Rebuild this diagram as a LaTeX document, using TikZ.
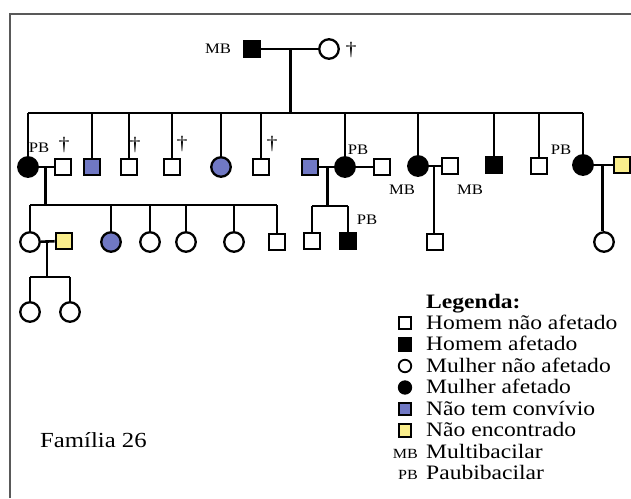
\documentclass[tikz,border=0pt]{standalone}
\usepackage{fontspec}
\setmainfont{Liberation Serif}[FakeStretch=1.15]
\usepackage{tikz}
\usetikzlibrary{calc,positioning}
\definecolor{nocontblue}{RGB}{112,120,196}
\definecolor{notfoundyellow}{RGB}{250,238,140}
\newcommand{\legfont}{\fontsize{20.5}{24}\selectfont}
\newcommand{\famfont}{\fontsize{21.5}{25}\selectfont}
\newcommand{\tagfont}{\fontsize{14.5}{16}\selectfont}
\newcommand{\dagfont}{\fontsize{19}{21}\selectfont}

\tikzset{
  ped/.style={line width=2.6pt},
  male/.style={draw, line width=2.3pt, minimum size=16.5pt, inner sep=0pt, fill=white},
  female/.style={draw, circle, line width=2.3pt, minimum size=19.5pt, inner sep=0pt, fill=white},
  aff/.style={fill=black},
  nocont/.style={fill=nocontblue},
  notfound/.style={fill=notfoundyellow},
  legsym/.style={minimum size=12.5pt, line width=1.8pt},
  tag/.style={font=\tagfont, inner sep=0pt},
  dead/.style={font=\dagfont, inner sep=0pt},
  legtext/.style={font=\legfont, anchor=base west, inner sep=0pt},
}

\begin{document}
\begin{tikzpicture}[x=1pt,y=-1pt]
\useasboundingbox (0,0) rectangle (631,498);
% frame (only top and left edge show)
\draw[black!65, line width=2pt] (9.5,498) -- (9.5,14) -- (631,14);

% generation I
\node[male,aff] (gf) at (252,49) {};
\node[female] (gm) at (329,49) {};
\node[tag] at (218,49) {MB};
\node[dead] at (351,50) {†};
\draw[ped] (gf) -- (gm);
\coordinate (m0) at ($(gf)!0.5!(gm)$);
\coordinate (s1l) at (28,113);
\coordinate (s1r) at (583,113);
\draw[ped] (m0) -- (m0 |- s1l);
\draw[ped] (s1l) -- (s1r);

% generation II
\node[female,aff] (a1) at (28,167) {};
\node[male] (a1h) at (63,167) {};
\node[male,nocont] (a2) at (92,167) {};
\node[male] (a3) at (129,167) {};
\node[male] (a4) at (172,167) {};
\node[female,nocont] (a5) at (221,167) {};
\node[male] (a6) at (261,167) {};
\node[male,nocont] (a7w) at (310,167) {};
\node[female,aff] (a7) at (345,167) {};
\node[male] (a7h) at (382,167) {};
\node[female,aff] (a8) at (418,166) {};
\node[male] (a8h) at (450,166) {};
\node[male,aff] (a9) at (494,165) {};
\node[male] (a10) at (539,166) {};
\node[female,aff] (a11) at (583,165) {};
\node[male,notfound] (a11h) at (622,165) {};

\foreach \n in {a1,a2,a3,a4,a5,a6,a7,a8,a9,a10,a11}
  \draw[ped] (\n) -- (\n |- s1l);

% tags and deaths
\node[tag] at (39,148) {PB};
\node[dead] at (64,145) {†};
\node[dead] at (135,145) {†};
\node[dead] at (182,144) {†};
\node[dead] at (272,144) {†};
\node[tag] at (358,150) {PB};
\node[tag] at (402,190) {MB};
\node[tag] at (470,190) {MB};
\node[tag] at (561,150) {PB};

% marriages
\draw[ped] (a1) -- (a1h);
\draw[ped] (a7w) -- (a7);
\draw[ped] (a7) -- (a7h);
\draw[ped] (a8) -- (a8h);
\draw[ped] (a11) -- (a11h);

% generation III
\node[female] (b1) at (30,242) {};
\node[male,notfound] (b1h) at (64,241) {};
\node[female,nocont] (b2) at (111,242) {};
\node[female] (b3) at (150,242) {};
\node[female] (b4) at (186,242) {};
\node[female] (b5) at (234,242) {};
\node[male] (b6) at (277,242) {};
\node[male] (b7) at (312,241) {};
\node[male,aff] (b8) at (348,241) {};
\node[tag] at (367,220) {PB};
\node[male] (b9) at (435,242) {};
\node[female] (b10) at (604,242) {};

\coordinate (m1) at ($(a1)!0.5!(a1h)$);
\coordinate (s2l) at (30,205);
\coordinate (s2r) at (277,205);
\draw[ped] (m1) -- (m1 |- s2l);
\draw[ped] (s2l) -- (s2r);
\foreach \n in {b1,b2,b3,b4,b5,b6}
  \draw[ped] (\n) -- (\n |- s2l);

\coordinate (m7) at ($(a7w)!0.5!(a7)$);
\coordinate (s3l) at (312,206);
\coordinate (s3r) at (348,206);
\draw[ped] (m7) -- (m7 |- s3l);
\draw[ped] (s3l) -- (s3r);
\draw[ped] (b7) -- (b7 |- s3l);
\draw[ped] (b8) -- (b8 |- s3l);

\coordinate (m8) at ($(a8)!0.5!(a8h)$);
\draw[ped] (m8) -- (m8 |- b9.north);
\coordinate (m11) at ($(a11)!0.5!(a11h)$);
\draw[ped] (m11) -- (m11 |- b10.north);

\draw[ped] (b1) -- (b1h);

% generation IV
\node[female] (c1) at (30,312) {};
\node[female] (c2) at (70,312) {};
\coordinate (m12) at ($(b1)!0.5!(b1h)$);
\coordinate (s4l) at (30,277);
\coordinate (s4r) at (70,277);
\draw[ped] (m12) -- (m12 |- s4l);
\draw[ped] (s4l) -- (s4r);
\draw[ped] (c1) -- (c1 |- s4l);
\draw[ped] (c2) -- (c2 |- s4l);

% family name
\node[font=\famfont, anchor=base west, inner sep=0pt] (fam) at (40,447) {Família 26};

% legend
\node[legtext, font=\legfont\bfseries] (legtitle) at (426,308) {Legenda:};
\node[male,legsym] (k1) at (405,323) {};
\node[legtext] at (426,329) {Homem não afetado};
\node[male,aff,legsym] (k2) at (405,344.5) {};
\node[legtext] at (426,350.5) {Homem afetado};
\node[female,legsym] (k3) at (405,366) {};
\node[legtext] at (426,372) {Mulher não afetado};
\node[female,aff,legsym] (k4) at (405,387.5) {};
\node[legtext] at (426,393.5) {Mulher afetado};
\node[male,nocont,legsym] (k5) at (405,409) {};
\node[legtext] at (426,415) {Não tem convívio};
\node[male,notfound,legsym] (k6) at (405,430.5) {};
\node[legtext] at (426,436.5) {Não encontrado};
\node[tag, font=\fontsize{14}{15}\selectfont, anchor=base east] (k7) at (418,458) {MB};
\node[legtext] at (426,458) {Multibacilar};
\node[tag, font=\fontsize{14}{15}\selectfont, anchor=base east] (k8) at (418,479.5) {PB};
\node[legtext] at (426,479.5) {Paubibacilar};
\end{tikzpicture}
\end{document}
